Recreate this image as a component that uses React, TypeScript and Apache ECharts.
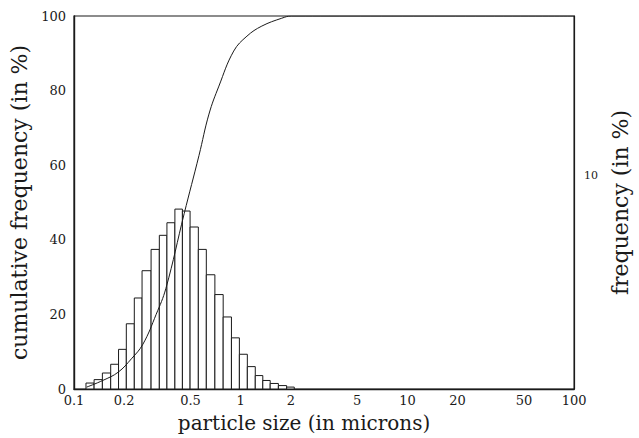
import React, { useEffect, useRef } from "react";
import * as echarts from "echarts";

// Histogram bin edges (microns)
const binEdges = [
  0.118, 0.132, 0.148, 0.166, 0.185, 0.206, 0.23, 0.256, 0.29, 0.325, 0.361,
  0.403, 0.447, 0.497, 0.557, 0.622, 0.7, 0.785, 0.88, 0.982, 1.096, 1.223,
  1.357, 1.503, 1.683, 1.886, 2.096,
];
// Frequency per bin (in %), right axis
const frequency = [
  0.28, 0.44, 0.75, 1.16, 1.86, 3.06, 4.27, 5.55, 6.55, 7.21, 7.8, 8.44, 8.35,
  7.6, 6.55, 5.36, 4.43, 3.38, 2.4, 1.63, 1.05, 0.63, 0.4, 0.26, 0.16, 0.09,
];
// Cumulative frequency curve: [size (microns), cumulative %]
const cumSize = [0.119, 0.149, 0.184, 0.221, 0.259, 0.311, 0.356, 0.458, 0.562, 0.645, 0.74, 0.908, 1.09, 1.339, 1.762, 2.012, 3, 100];
const cumValue = [0.5, 2.3, 4.5, 8.1, 12, 20, 27, 47, 62.6, 73.7, 81.2, 90.6, 94.6, 97.3, 99.4, 100, 100, 100];

const xTickValues = [0.1, 0.2, 0.5, 1, 2, 5, 10, 20, 50, 100];
const xTickLabels = ["0.1", "0.2", "0.5", "1", "2", "5", "10", "20", "50", "100"];
const leftTickLabels = ["0", "20", "40", "60", "80", "100"];
const rightMax = 17.5;

export default function App() {
  const ref = useRef<HTMLDivElement>(null);
  useEffect(() => {
    if (!ref.current) return;
    const chart = echarts.init(ref.current, undefined, { renderer: "svg" });
    const ink = "#1a1a1a";
    const font = "DejaVu Serif";
    const barData = frequency.map((f, i) => [binEdges[i], binEdges[i + 1], f]);
    const cumData = cumSize.map((s, i) => [s, cumValue[i]]);
    chart.setOption({
      animation: false,
      backgroundColor: "#ffffff",
      grid: {
        left: 74,
        right: 61,
        top: 16,
        bottom: 46,
        show: true,
        borderColor: ink,
        borderWidth: 1.2,
        backgroundColor: "transparent",
      },
      xAxis: {
        type: "log",
        logBase: 10,
        min: 0.1,
        max: 100,
        name: "particle size (in microns)",
        nameLocation: "middle",
        nameGap: 24,
        nameTextStyle: { fontFamily: font, fontSize: 20, color: ink, padding: [0, 40, 0, 0] },
        axisLine: { show: true, lineStyle: { color: ink, width: 1.4 } },
        axisTick: { show: false },
        splitLine: { show: false },
        minorTick: { show: false },
        axisLabel: {
          customValues: xTickValues,
          margin: 5,
          fontFamily: font,
          fontSize: 13,
          color: ink,
          formatter: (v: number) => {
            const i = xTickValues.findIndex((t) => Math.abs(t - v) / t < 1e-6);
            return i >= 0 ? xTickLabels[i] : "";
          },
        },
      },
      yAxis: [
        {
          type: "value",
          min: 0,
          max: 100,
          interval: 20,
          position: "left",
          name: "cumulative frequency (in %)",
          nameLocation: "middle",
          nameRotate: 90,
          nameGap: 38,
          nameTextStyle: { fontFamily: font, fontSize: 22, color: ink },
          axisLine: { show: true, lineStyle: { color: ink, width: 1.4 } },
          axisTick: { show: false },
          splitLine: { show: false },
          axisLabel: {
            margin: 8,
            fontFamily: font,
            fontSize: 13,
            color: ink,
            formatter: (v: number) => leftTickLabels[Math.round(v / 20)] ?? "",
          },
        },
        {
          type: "value",
          min: 0,
          max: rightMax,
          interval: 10,
          position: "right",
          name: "frequency (in %)",
          nameLocation: "middle",
          nameRotate: 90,
          nameGap: 33,
          nameTextStyle: { fontFamily: font, fontSize: 22, color: ink },
          axisLine: { show: true, lineStyle: { color: ink, width: 1.2 } },
          axisTick: { show: false },
          splitLine: { show: false },
          axisLabel: {
            margin: 10,
            fontFamily: font,
            fontSize: 11,
            color: ink,
            showMaxLabel: false,
            formatter: (v: number) => (v === 10 ? "10" : ""),
          },
        },
      ],
      series: [
        {
          type: "custom",
          yAxisIndex: 1,
          data: barData,
          encode: { x: [0, 1], y: 2 },
          z: 2,
          renderItem: (params: any, api: any) => {
            const x0 = api.value(0);
            const x1 = api.value(1);
            const y = api.value(2);
            const p0 = api.coord([x0, y]);
            const p1 = api.coord([x1, 0]);
            return {
              type: "rect",
              shape: { x: p0[0], y: p0[1], width: p1[0] - p0[0], height: p1[1] - p0[1] },
              style: { fill: "#ffffff", stroke: ink, lineWidth: 1 },
            };
          },
        },
        {
          type: "line",
          yAxisIndex: 0,
          data: cumData,
          smooth: 0.4,
          showSymbol: false,
          symbol: "none",
          z: 3,
          lineStyle: { color: ink, width: 1 },
        },
      ],
    });
    return () => chart.dispose();
  }, []);
  return (
    <div
      ref={ref}
      style={{ position: "absolute", left: 0, top: 0, width: 639, height: 438, background: "#fff" }}
    />
  );
}
